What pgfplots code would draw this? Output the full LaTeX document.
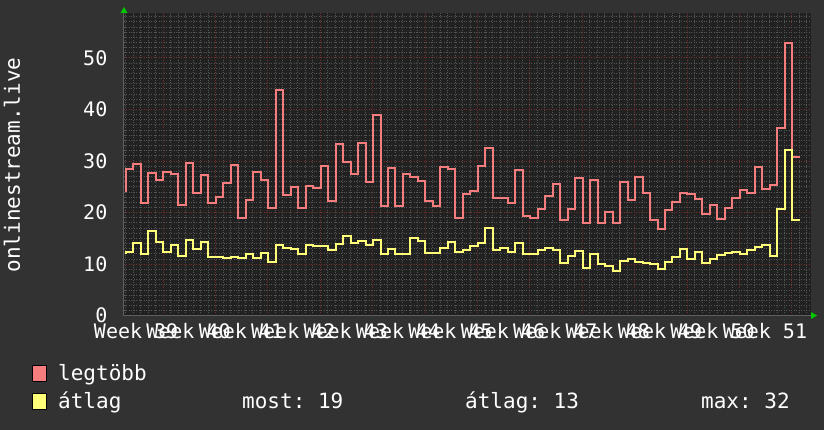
\documentclass[border=0pt]{standalone}
\usepackage{fontspec}
\setmainfont{DejaVu Sans Mono}
\usepackage{pgfplots}
\pgfplotsset{compat=1.18}
\frenchspacing

\definecolor{bgc}{RGB}{50,50,50}
\definecolor{plotbg}{RGB}{33,33,33}
\definecolor{minorg}{RGB}{85,85,85}
\definecolor{majorg}{RGB}{115,45,45}
\definecolor{axisg}{RGB}{95,95,95}
\definecolor{maxred}{RGB}{245,125,125}
\definecolor{avgyel}{RGB}{255,255,120}
\definecolor{arrowgreen}{RGB}{0,200,0}

% daily values, day k held over [k, k+1]
\pgfplotstableread{
x v
-0.13 24.2
0 28.5
1 29.4
2 21.9
3 27.6
4 26.3
5 27.8
6 27.4
7 21.4
8 29.7
9 23.7
10 27.2
11 21.8
12 23.0
13 25.7
14 29.2
15 19.0
16 22.5
17 27.8
18 26.4
19 20.9
20 43.7
21 23.4
22 24.9
23 20.9
24 25.1
25 24.8
26 29.1
27 22.2
28 33.2
29 29.8
30 27.4
31 33.5
32 25.9
33 38.9
34 21.2
35 28.7
36 21.2
37 27.4
38 26.9
39 26.2
40 22.2
41 21.2
42 28.9
43 28.4
44 19.0
45 23.6
46 24.2
47 29.1
48 32.6
49 22.8
50 22.8
51 21.9
52 28.3
53 19.3
54 19.0
55 20.7
56 23.2
57 25.5
58 18.5
59 20.7
60 26.7
61 17.9
62 26.3
63 17.9
64 20.2
65 17.9
66 25.9
67 22.5
68 26.9
69 23.8
70 18.5
71 16.8
72 20.5
73 22.1
74 23.8
75 23.6
76 22.7
77 19.8
78 21.5
79 18.7
80 20.9
81 22.8
82 24.3
83 23.7
84 28.8
85 24.6
86 25.4
87 36.4
88 52.8
89 30.8
90.03 30.8
}\maxtable

\pgfplotstableread{
x v
-0.13 12.1
0 12.4
1 14.1
2 11.9
3 16.4
4 14.3
5 12.4
6 13.8
7 11.5
8 14.6
9 13.0
10 14.3
11 11.4
12 11.4
13 11.2
14 11.4
15 11.2
16 11.9
17 11.2
18 12.2
19 10.5
20 13.7
21 13.2
22 12.9
23 11.9
24 13.8
25 13.5
26 13.5
27 12.7
28 14.0
29 15.4
30 14.1
31 14.45
32 13.7
33 14.6
34 11.9
35 12.9
36 11.9
37 11.9
38 15.1
39 14.45
40 12.1
41 12.2
42 13.2
43 14.3
44 12.3
45 12.8
46 13.5
47 14.1
48 17.1
49 12.7
50 13.2
51 12.4
52 14.1
53 11.9
54 11.9
55 12.8
56 13.2
57 12.8
58 10.25
59 11.5
60 12.6
61 9.2
62 11.9
63 10.1
64 9.7
65 8.7
66 10.6
67 10.9
68 10.5
69 10.25
70 10.1
71 9.1
72 10.5
73 11.4
74 13.0
75 11.0
76 12.4
77 10.2
78 11.0
79 11.7
80 12.2
81 12.4
82 11.9
83 12.8
84 13.35
85 13.7
86 11.5
87 20.6
88 32.05
89 18.5
90.03 18.5
}\avgtable

\begin{document}
\begin{tikzpicture}
\fill[bgc] (0,0) rectangle (824pt,430pt);

\begin{axis}[
    at={(123.5pt,114.3pt)}, anchor=south west,
    scale only axis,
    width=687pt, height=302.7pt,
    xmin=-0.334, xmax=91.44,
    ymin=0, ymax=58.7,
    axis background/.style={fill=plotbg},
    axis x line*=bottom, axis y line*=left,
    axis line style={draw=axisg, line width=0.8pt, -},
    ytick={0,10,...,50},
    minor ytick={0,1,...,58},
    xtick={4.95,11.95,18.95,25.95,32.95,39.95,46.95,53.95,60.95,67.95,74.95,81.95,88.95},
    xticklabels={},
    minor xtick={-0.05,0.95,...,91},
    extra x ticks={1.35,8.35,15.35,22.35,29.35,36.35,43.35,50.35,57.35,64.35,71.35,78.35,85.35},
    extra x tick labels={Week 39,Week 40,Week 41,Week 42,Week 43,Week 44,Week 45,Week 46,Week 47,Week 48,Week 49,Week 50,Week 51},
    extra x tick style={grid=none, major tick length=0pt},
    major tick length=0pt, minor tick length=0pt,
    xmajorgrids, ymajorgrids, xminorgrids, yminorgrids,
    minor grid style={draw=minorg, line width=0.8pt, dash pattern=on 1pt off 1.5pt},
    major grid style={draw=majorg, line width=0.8pt, dash pattern=on 1pt off 1.5pt},
    /pgf/number format/assume math mode=true,
    tick label style={font=\fontsize{20}{22}\selectfont, text=white},
    yticklabel style={anchor=east, inner sep=0pt, xshift=-16pt},
    xticklabel style={anchor=north, inner sep=0pt, yshift=-7pt},
    clip=false,
]
\addplot[const plot, draw=maxred, line width=2pt] table[x=x, y=v] {\maxtable};
\addplot[const plot, draw=avgyel, line width=2pt] table[x=x, y=v] {\avgtable};
\end{axis}

% axis arrows
\fill[arrowgreen] (120.5pt,417pt) -- (127.5pt,417pt) -- (124pt,423pt) -- cycle;
\fill[arrowgreen] (811pt,118pt) -- (811pt,111pt) -- (817pt,114.5pt) -- cycle;

% y label
\node[rotate=90, text=white, font=\fontsize{21}{23}\selectfont] at (12pt,265pt) {onlinestream.live};

% legend
\filldraw[fill=maxred, draw=black, line width=0.8pt] (32pt,48.5pt) rectangle (46pt,64.5pt);
\filldraw[fill=avgyel, draw=black, line width=0.8pt] (32pt,20.8pt) rectangle (46pt,36.8pt);
\begin{scope}[every node/.style={anchor=base west, inner sep=0pt, text=white, font=\fontsize{21}{23}\selectfont}]
\node at (58pt,49.5pt) {legtöbb};
\node at (58pt,21.8pt) {átlag};
\node at (242pt,21.8pt) {most: 19};
\node at (465pt,21.8pt) {átlag: 13};
\node at (701pt,21.8pt) {max: 32};
\end{scope}

\pgfresetboundingbox
\path[use as bounding box] (0,0) rectangle (824pt,430pt);
\end{tikzpicture}
\end{document}
